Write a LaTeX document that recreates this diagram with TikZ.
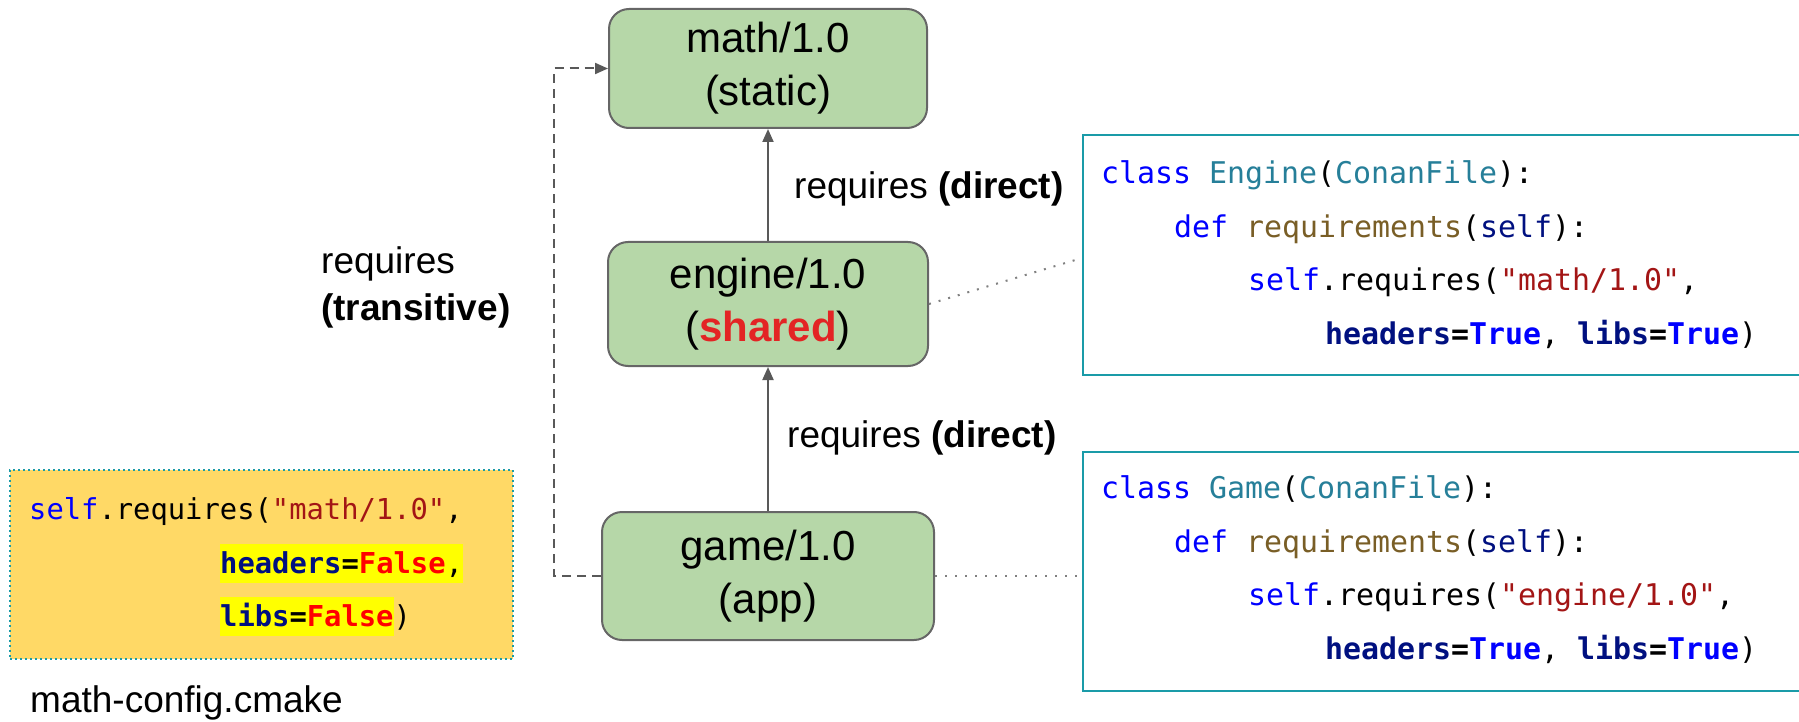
\documentclass[tikz,border=0pt]{standalone}
\usepackage{fontspec}
\setmainfont{Liberation Sans}
\newfontfamily\codefont{DejaVu Sans Mono}
\usetikzlibrary{arrows.meta}

\definecolor{boxgreen}{HTML}{B6D7A8}
\definecolor{boxline}{HTML}{666666}
\definecolor{arrowgray}{HTML}{595959}
\definecolor{tealline}{HTML}{1A9BA8}
\definecolor{noteyellow}{HTML}{FFD966}
\definecolor{hlyellow}{HTML}{FFFF00}
\definecolor{kwblue}{HTML}{0000FF}
\definecolor{clsteal}{HTML}{267F99}
\definecolor{fnbrown}{HTML}{795E26}
\definecolor{prmnavy}{HTML}{001080}
\definecolor{strred}{HTML}{A31515}
\definecolor{falsered}{HTML}{FF0000}
\definecolor{sharedred}{HTML}{E32424}

% syntax colouring helpers for the code snippets
\newcommand\ckw[1]{\textcolor{kwblue}{#1}}
\newcommand\ccls[1]{\textcolor{clsteal}{#1}}
\newcommand\cfn[1]{\textcolor{fnbrown}{#1}}
\newcommand\cprm[1]{\textcolor{prmnavy}{#1}}
\newcommand\cstr[1]{\textcolor{strred}{#1}}
\newcommand\ctrue[1]{\textcolor{kwblue}{#1}}
\newcommand\cfalse[1]{\textcolor{falsered}{#1}}
\newcommand\hilite[1]{{\setlength\fboxsep{0pt}\colorbox{hlyellow}{\rule[-10pt]{0pt}{39pt}#1}}}

\begin{document}
\begin{tikzpicture}[x=1pt,y=-1pt,
  pkg/.style={draw=boxline, line width=2pt, fill=boxgreen, rounded corners=20pt,
    align=center, inner sep=0pt, font=\fontsize{42}{53}\selectfont},
  dep/.style={draw=arrowgray, line width=2pt, -{Triangle[length=13pt,width=11pt]}},
  link/.style={draw=gray, line width=2pt, dash pattern=on 2pt off 8pt},
  codebox/.style={draw=tealline, line width=2pt, fill=white, inner sep=0pt, anchor=north west},
  code/.style={anchor=base west, inner sep=0pt, font=\codefont\fontsize{29.9}{36}\selectfont},
  notecode/.style={anchor=base west, inner sep=0pt, font=\codefont\fontsize{28.8}{36}\selectfont},
  lbl/.style={inner sep=0pt, font=\fontsize{37}{47}\selectfont}]
\useasboundingbox (0,0) rectangle (1799,722);

% packages
\node[pkg, minimum width=318pt, minimum height=119pt] (math) at (768,68.5) {math/1.0\\(static)};
\node[pkg, minimum width=320pt, minimum height=124pt] (engine) at (768,304) {engine/1.0\\(\textbf{\textcolor{sharedred}{shared}})};
\node[pkg, minimum width=332pt, minimum height=128pt] (game) at (768,576) {game/1.0\\(app)};

% dependency arrows
\draw[dep] (engine.north) -- (math.south);
\draw[dep] (game.north) -- (engine.south);
\coordinate (bend) at (554,0);
\draw[dep, dash pattern=on 9pt off 6pt] (game.west) -- (game.west -| bend) -- (math.west -| bend) -- (math.west);

% labels
\node[lbl, anchor=base west] (dirup) at (794,199) {requires \textbf{(direct)}};
\node[lbl, anchor=base west] (dirlow) at (787,447) {requires \textbf{(direct)}};
\node[lbl, anchor=west, align=left] (trans) at (321,287) {requires\\\textbf{(transitive)}};

% recipe snippets
\node[codebox, minimum width=740pt, minimum height=240pt] (engcode) at (1082,134) {};
\node[codebox, minimum width=740pt, minimum height=239pt] (gamecode) at (1082,451) {};

\node[code] (e1) at (1101,184) {\ckw{class} \ccls{Engine}(\ccls{ConanFile}):};
\node[code] (e2) at (1174,237) {\ckw{def} \cfn{requirements}(\cprm{self}):};
\node[code] (e3) at (1248,290) {\ckw{self}.requires(\cstr{"math/1.0"},};
\node[code] (e4) at (1325,344) {\textbf{\cprm{headers}=\ctrue{True}}, \textbf{\cprm{libs}=\ctrue{True}})};

\node[code] (g1) at (1101,498) {\ckw{class} \ccls{Game}(\ccls{ConanFile}):};
\node[code] (g2) at (1174,552) {\ckw{def} \cfn{requirements}(\cprm{self}):};
\node[code] (g3) at (1248,605) {\ckw{self}.requires(\cstr{"engine/1.0"},};
\node[code] (g4) at (1325,659) {\textbf{\cprm{headers}=\ctrue{True}}, \textbf{\cprm{libs}=\ctrue{True}})};

% dotted links from packages to their recipes
\draw[link] (engine.east) -- ([yshift=-124pt]engcode.north west);
\draw[link] (game.east) -- (gamecode.west |- game.east);

% generated cmake config
\node[draw=tealline, line width=2pt, dash pattern=on 2pt off 3pt, fill=noteyellow,
  anchor=north west, minimum width=503pt, minimum height=189pt, inner sep=0pt] (cfg) at (9,469) {};
\node[notecode] (c1) at (29,519) {\ckw{self}.requires(\cstr{"math/1.0"},};
\node[notecode] (c2) at (220,573) {\hilite{\textbf{\cprm{headers}=\cfalse{False}},}};
\node[notecode] (c3) at (220,626) {\hilite{\textbf{\cprm{libs}=\cfalse{False}}})};
\node[lbl, anchor=base west] (cfgname) at (30,712) {math-config.cmake};
\end{tikzpicture}
\end{document}
